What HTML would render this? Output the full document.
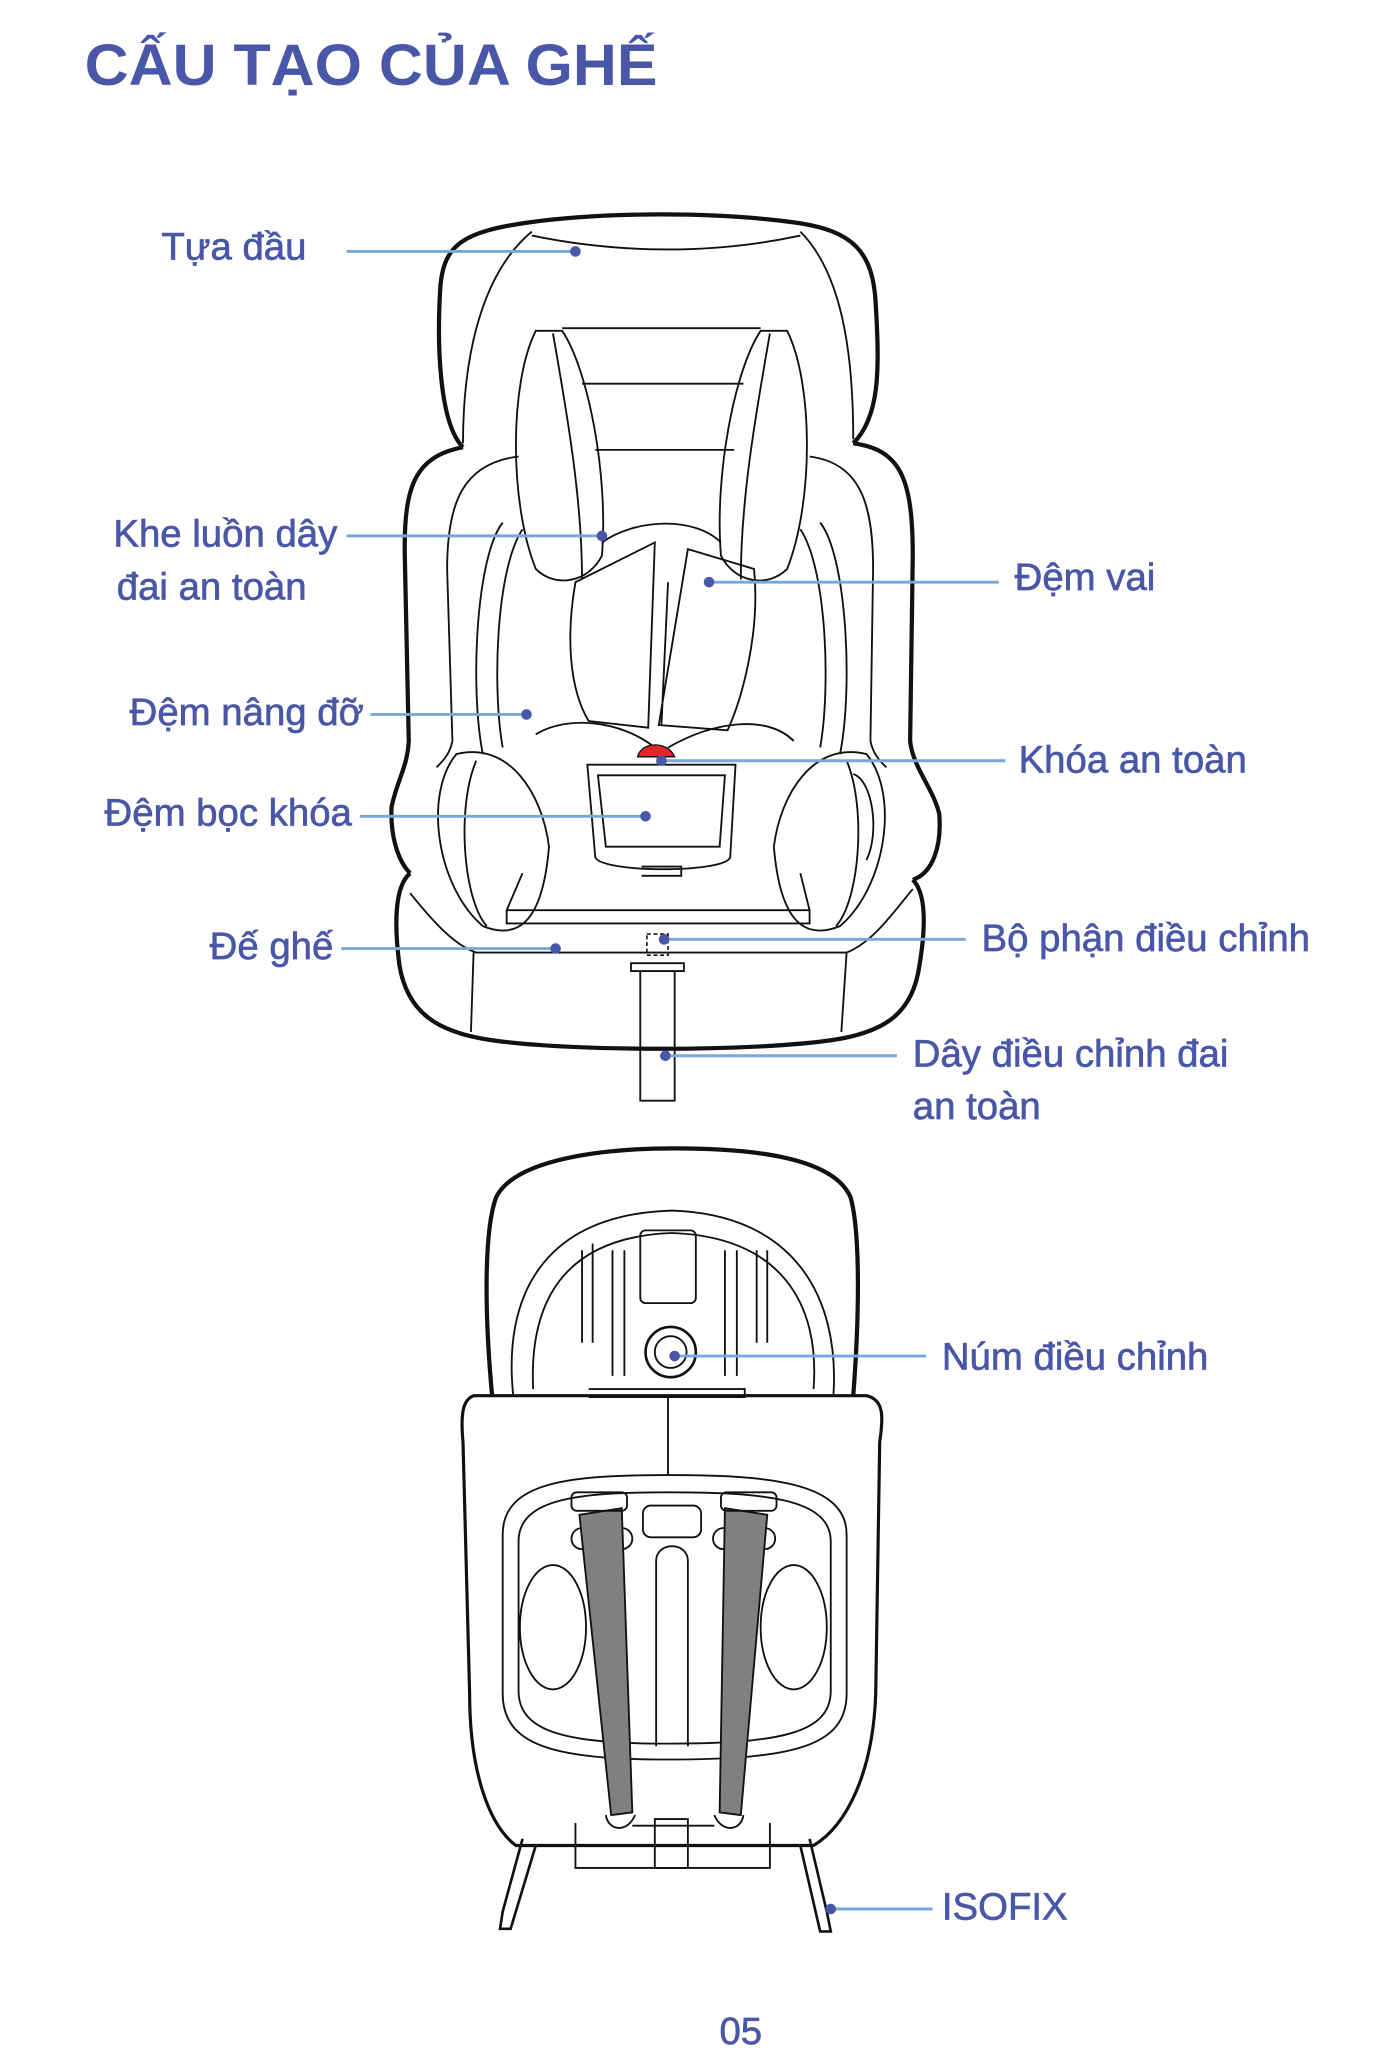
<!DOCTYPE html>
<html><head><meta charset="utf-8"><style>
html,body{margin:0;padding:0;background:#fff}
svg{display:block}
.t{font-family:"Liberation Sans",Arial,sans-serif;fill:#4a57a8;font-size:29px;stroke:#4a57a8;stroke-width:0.5}
.l{stroke:#79a6dc;stroke-width:2.2;fill:none}
.d{fill:#4a57a8}
.k{fill:none;stroke:#111;stroke-width:1.4}
.K{fill:none;stroke:#111;stroke-width:3.2}
</style></head><body>
<svg width="1389" height="2048" viewBox="0 0 1050 1548" xmlns="http://www.w3.org/2000/svg">
<rect width="1050" height="1548" fill="#fff"/>
<text x="64" y="64" class="t" style="font-size:44px;font-weight:bold;stroke-width:0" textLength="433" lengthAdjust="spacingAndGlyphs">CẤU TẠO CỦA GHẾ</text>

<g>
<path class="K" d="M350,338 C332,320 330,260 333,215 C336,185 350,175 400,168 C460,160 540,160 600,168 C645,174 660,190 662,230 C665,280 665,315 645,335"/>
<path class="k" d="M350,335 C350,280 360,210 402,175 M645,332 C645,280 640,210 605,175 M402,178 C470,192 540,192 605,178"/>
<path class="k" d="M425,248 L575,248 M440,290 L562,290 M450,340 L555,340"/>
<path class="K" d="M350,338 C315,345 305,365 306,420 L309,560 C308,580 300,590 296,610 C295,630 300,650 310,660"/>
<path class="K" d="M645,335 C680,340 690,360 690,420 L688,560 C690,580 705,595 710,615 C712,640 705,660 690,665"/>
<path class="k" d="M392,345 C350,350 338,380 338,430 L342,560 C340,570 335,575 330,580 M612,345 C650,350 660,380 660,430 L658,560 C660,570 665,575 670,580"/>
<path class="k" d="M405,250 C385,290 385,380 405,430 C420,445 445,440 455,420 C460,360 445,280 425,250 Z M418,252 C430,320 440,380 440,438"/>
<path class="k" d="M595,250 C615,290 615,380 595,430 C580,445 555,440 545,420 C540,360 555,280 575,250 Z M582,252 C570,320 560,380 560,438"/>
<path class="k" d="M380,395 C360,420 355,520 365,570 M395,400 C375,430 372,520 380,565 M620,395 C640,420 645,520 635,570 M605,400 C625,430 628,520 620,565"/>
<path class="k" d="M455,410 C480,392 525,390 545,410"/>
<path class="k" d="M435,440 C428,480 430,520 445,545 L490,550 L495,410 Z"/>
<path class="k" d="M520,415 L570,430 C575,480 560,530 550,552 L498,548 Z M505,440 L500,548"/>
<path class="k" d="M405,555 C430,540 470,545 495,565 M505,565 C540,545 580,540 600,560"/>
<path d="M482,572 C485,560 505,560 510,572 Z" fill="#e0262b" stroke="#111" stroke-width="1"/>
<path class="k" d="M444,578 L556,578 L552,648 C548,660 455,660 450,648 Z M452,586 L548,586 L544,640 L458,640 Z M485,655 L515,655 L515,662 L485,662"/>
<path class="k" d="M345,570 C320,600 330,670 365,700 C390,710 410,700 415,640 C410,600 385,560 345,570 Z M360,575 C345,610 350,680 368,700"/>
<path class="k" d="M655,570 C680,600 670,670 635,700 C610,710 590,700 585,640 C590,600 615,560 655,570 Z M640,575 C655,610 650,680 632,700"/>
<path class="k" d="M645,585 C660,590 665,630 655,650"/>
<path class="k" d="M383,688 L612,688 L612,698 L383,698 Z M395,660 L383,688 M605,660 L612,688"/>
<path class="K" d="M310,660 C298,670 298,700 302,730 C308,765 330,780 370,786 C430,795 570,795 630,786 C670,780 690,765 695,730 C700,700 700,675 690,665"/>
<path class="k" d="M358,720 L356,780 M640,720 L636,780 M310,675 C330,700 345,715 360,720 L640,720 C660,712 675,690 690,672"/>
<rect x="489" y="706" width="16" height="16" fill="none" stroke="#111" stroke-width="1.2" stroke-dasharray="3 2"/>
<path class="k" d="M477,728 L517,728 L517,734 L477,734 Z M484,734 L484,832 L510,832 L510,734"/>
</g>

<g>
<path class="K" d="M372,1055 C366,990 366,930 375,905 C390,875 460,868 510,868 C570,868 630,875 643,905 C650,930 650,990 645,1055"/>
<path class="k" d="M388,1055 C380,980 410,918 508,915 C600,918 635,980 630,1055 M403,1050 C400,985 425,935 508,932 C590,935 620,985 615,1050"/>
<rect x="484" y="930" width="42" height="55" rx="4" class="k"/>
<path class="k" d="M440,945 L440,1015 M448,940 L448,1015 M463,945 L463,1040 M472,945 L472,1040 M548,945 L548,1040 M557,945 L557,1040 M572,945 L572,1015 M580,945 L580,1015"/>
<circle cx="507" cy="1022" r="19" class="k" style="stroke-width:2"/><circle cx="507" cy="1022" r="12" class="k"/>
<path class="k" d="M445,1050 L563,1050 L563,1056 L445,1056"/>
<path class="K" d="M358,1055 L655,1055 C668,1058 668,1070 665,1090 L662,1280 C660,1340 640,1380 615,1395 L390,1395 C370,1380 355,1340 355,1280 L350,1090 C348,1068 350,1058 358,1055 Z" style="stroke-width:2.4"/>
<path class="k" d="M505,1055 L505,1115"/>
<path class="k" d="M380,1160 C380,1120 430,1115 505,1115 C580,1115 640,1120 640,1160 L640,1280 C640,1320 600,1330 505,1330 C420,1330 380,1320 380,1280 Z"/>
<path class="k" d="M392,1165 C392,1132 440,1128 505,1128 C575,1128 628,1132 628,1165 L628,1278 C628,1310 590,1318 505,1318 C430,1318 392,1310 392,1278 Z"/>
<ellipse cx="418" cy="1230" rx="25" ry="47" class="k"/><ellipse cx="600" cy="1230" rx="25" ry="47" class="k"/>
<rect x="486" y="1138" width="44" height="24" rx="6" class="k"/>
<path class="k" d="M496,1320 L496,1180 C496,1165 520,1165 520,1180 L520,1320"/>
<circle cx="440" cy="1163" r="8" class="k"/><circle cx="470" cy="1163" r="8" class="k"/><circle cx="547" cy="1163" r="8" class="k"/><circle cx="578" cy="1163" r="8" class="k"/>
<path d="M438,1145 L470,1140 L478,1370 L462,1372 Z" fill="#808080" stroke="#111" stroke-width="1.4"/>
<path d="M548,1140 L580,1145 L560,1372 L544,1370 Z" fill="#808080" stroke="#111" stroke-width="1.4"/>
<rect x="432" y="1128" width="42" height="14" rx="4" class="k" fill="#fff"/>
<rect x="545" y="1128" width="42" height="14" rx="4" class="k" fill="#fff"/>
<path class="k" d="M458,1372 C460,1385 475,1385 480,1372 M540,1372 C545,1385 560,1385 562,1372 M495,1375 L520,1375 L520,1412 L495,1412 Z M478,1380 L540,1380"/>
<path class="k" d="M435,1378 L435,1412 L582,1412 L582,1378"/>
<path class="K" d="M395,1390 L380,1445 L378,1458 L386,1458 L405,1395" style="stroke-width:2"/>
<path class="K" d="M612,1390 L625,1445 L628,1460 L620,1460 L605,1395" style="stroke-width:2"/>
</g>

<g>
<path class="l" d="M262,190 L435,190"/><circle class="d" cx="435" cy="190" r="4"/>
<path class="l" d="M262,405 L455,405"/><circle class="d" cx="455" cy="405" r="4"/>
<path class="l" d="M536,440 L755,440"/><circle class="d" cx="536" cy="440" r="4"/>
<path class="l" d="M280,540 L398,540"/><circle class="d" cx="398" cy="540" r="4"/>
<path class="l" d="M500,575 L760,575"/><circle class="d" cx="500" cy="575" r="4"/>
<path class="l" d="M272,617 L488,617"/><circle class="d" cx="488" cy="617" r="4"/>
<path class="l" d="M258,717 L420,717"/><circle class="d" cx="420" cy="717" r="4"/>
<path class="l" d="M502,710 L730,710"/><circle class="d" cx="502" cy="710" r="4"/>
<path class="l" d="M503,798 L678,798"/><circle class="d" cx="503" cy="798" r="4"/>
<path class="l" d="M510,1025 L700,1025"/><circle class="d" cx="510" cy="1025" r="4"/>
<path class="l" d="M628,1443 L705,1443"/><circle class="d" cx="628" cy="1443" r="4"/>
</g>

<text class="t" x="122" y="196">Tựa đầu</text>
<text class="t" x="255" y="413" text-anchor="end">Khe luồn dây</text>
<text class="t" x="160" y="453" text-anchor="middle">đai an toàn</text>
<text class="t" x="767" y="446">Đệm vai</text>
<text class="t" x="275" y="548" text-anchor="end">Đệm nâng đỡ</text>
<text class="t" x="770" y="584">Khóa an toàn</text>
<text class="t" x="266" y="624" text-anchor="end">Đệm bọc khóa</text>
<text class="t" x="252" y="725" text-anchor="end">Đế ghế</text>
<text class="t" x="742" y="719">Bộ phận điều chỉnh</text>
<text class="t" x="690" y="806">Dây điều chỉnh đai</text>
<text class="t" x="690" y="846">an toàn</text>
<text class="t" x="712" y="1035">Núm điều chỉnh</text>
<text class="t" x="712" y="1451">ISOFIX</text>
<text class="t" x="560" y="1545" text-anchor="middle">05</text>
</svg>
</body></html>
